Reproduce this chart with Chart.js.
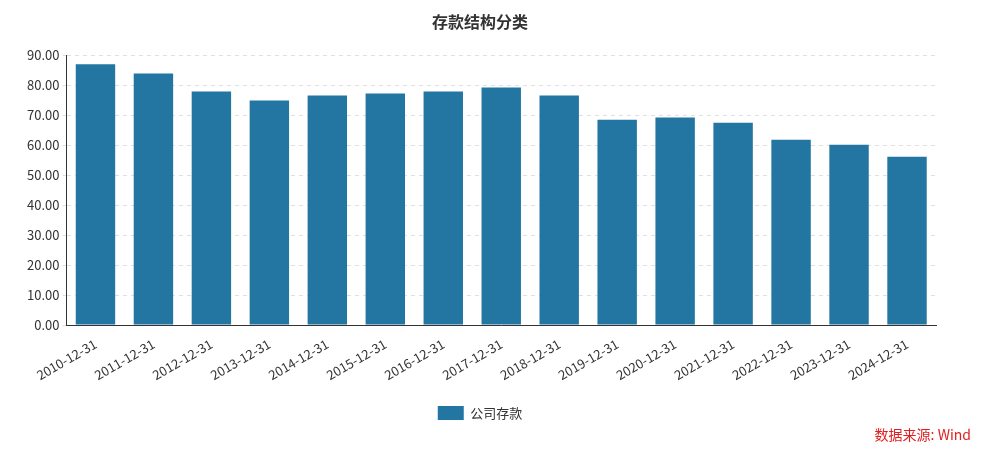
<!DOCTYPE html>
<html><head><meta charset="utf-8">
<script src="https://cdn.jsdelivr.net/npm/chart.js@4"></script>
<style>html,body{margin:0;padding:0;background:#fff}#w{position:relative;width:999px;height:454px}
#src{position:absolute;right:28px;bottom:10px;color:#e02020;font:14px "Noto Sans CJK SC",sans-serif}</style>
</head><body><div id="w"><canvas id="c" width="999" height="454"></canvas><div id="src">数据来源: Wind</div></div>
<script>
const categories=["2010-12-31","2011-12-31","2012-12-31","2013-12-31","2014-12-31","2015-12-31","2016-12-31","2017-12-31","2018-12-31","2019-12-31","2020-12-31","2021-12-31","2022-12-31","2023-12-31","2024-12-31"];
const deposits=[87.0,83.9,77.9,74.9,76.6,77.2,77.9,79.2,76.6,68.5,69.2,67.5,61.8,60.1,56.1];
const F='"Noto Sans CJK SC","Noto Sans",sans-serif';
new Chart(document.getElementById('c'),{type:'bar',
data:{labels:categories,datasets:[{label:'公司存款',data:deposits,backgroundColor:'#2276a1',categoryPercentage:0.68,barPercentage:1}]},
options:{responsive:false,animation:false,
layout:{padding:{left:24,right:63,top:0,bottom:24}},
plugins:{title:{display:true,text:'存款结构分类',font:{family:F,size:16,weight:'bold'},color:'#333',padding:{top:12,bottom:24}},
legend:{position:'bottom',labels:{font:{family:F,size:13},color:'#333',boxWidth:26,boxHeight:14,padding:20}},tooltip:{enabled:false}},
scales:{x:{grid:{display:false},border:{color:'#333'},ticks:{font:{family:F,size:13},color:'#333',maxRotation:30,minRotation:30}},
y:{min:0,max:90,ticks:{stepSize:10,font:{family:F,size:13},color:'#333',callback:v=>v.toFixed(2)},
grid:{color:'#e0e0e0',drawTicks:true,tickLength:4},border:{color:'#333',dash:[4,4]}}}}});
</script></body></html>
